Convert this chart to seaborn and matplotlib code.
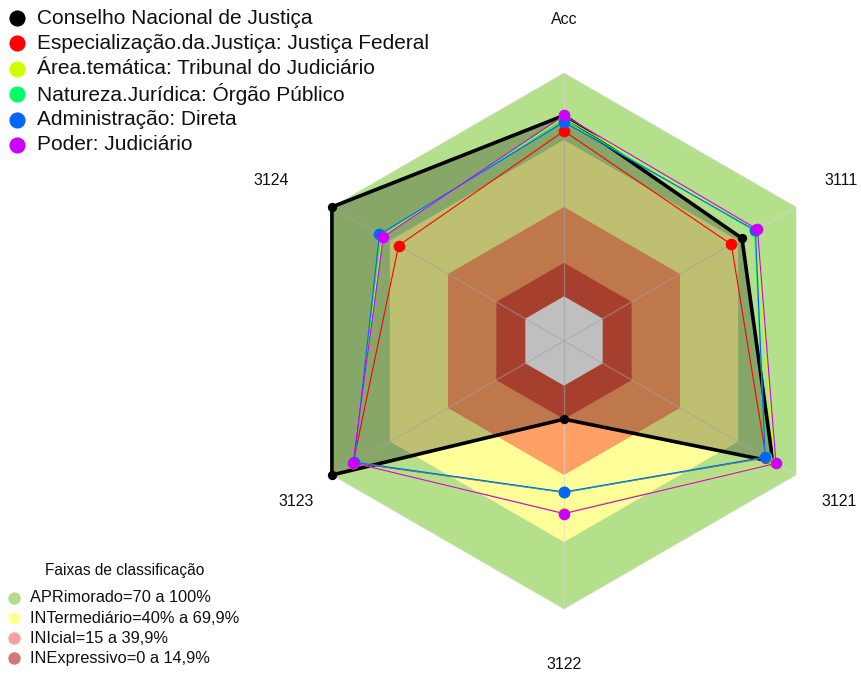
import numpy as np
import pandas as pd
import matplotlib
matplotlib.use("Agg")
import matplotlib.pyplot as plt
import seaborn as sns

# ---------------- data ----------------
categories = ["Acc", "3111", "3121", "3122", "3123", "3124"]

series_names = [
    "Conselho Nacional de Justiça",
    "Especialização.da.Justiça: Justiça Federal",
    "Área.temática: Tribunal do Judiciário",
    "Natureza.Jurídica: Órgão Público",
    "Administração: Direta",
    "Poder: Judiciário",
]
conselho = [0.81, 0.72, 0.88, 0.15, 1.00, 1.00]
especializacao = [0.74, 0.665, 0.845, 0.478, 0.89, 0.655]
area_tematica = [0.80, 0.79, 0.89, 0.570, 0.89, 0.74]
natureza = [0.79, 0.785, 0.842, 0.478, 0.886, 0.75]
administracao = [0.78, 0.79, 0.84, 0.476, 0.885, 0.754]
poder = [0.81, 0.80, 0.896, 0.573, 0.891, 0.734]
series_values = [conselho, especializacao, area_tematica, natureza, administracao, poder]
series_colors = ["#000000", "#FF0000", "#CCFF00", "#00FF66", "#0066FF", "#CC00FF"]

band_title = "Faixas de classificação"
band_labels = ["APRimorado=70 a 100%", "INTermediário=40% a 69,9%",
               "INIcial=15 a 39,9%", "INExpressivo=0 a 14,9%"]
band_upper = [1.00, 0.70, 0.40, 0.15]
band_fill = ["#b5e08b", "#ffff99", "#ffa066", "#e05540"]
band_legend_colors = ["#b3dc8c", "#ffff99", "#ff9f9f", "#d57575"]

# ---------------- setup ----------------
sns.set_theme(style="white")
plt.rcParams["font.family"] = ["Liberation Sans", "DejaVu Sans"]

W, H = 862, 675
fig = plt.figure(figsize=(W / 100, H / 100), dpi=100)
ax = fig.add_axes([0, 0, 1, 1])
cx, cy, R = 564, 341, 268

n = len(categories)
theta = np.deg2rad(90 - 60 * np.arange(n))


def radius(v):
    return (1 + 5 * np.asarray(v, dtype=float)) / 6


def xy(vals):
    r = radius(vals)
    return r * np.cos(theta), r * np.sin(theta)


# bands (outer to inner), then the white gap at the centre
for up, col in zip(band_upper, band_fill):
    x, y = xy([up] * n)
    ax.fill(x, y, color=col, lw=0, zorder=1)
x, y = xy([0.0] * n)
ax.fill(x, y, color="white", lw=0, zorder=1)

# radial axis lines
for t in theta:
    ax.plot([0, np.cos(t)], [0, np.sin(t)], color="#d8d8d8", lw=0.9, alpha=0.55, zorder=2)
xo, yo = xy([1.0] * n)
ax.plot(np.append(xo, xo[0]), np.append(yo, yo[0]), color="#d8d8d8", lw=0.8, alpha=0.5, zorder=2)

# series
for i, (name, vals, col) in enumerate(zip(series_names, series_values, series_colors)):
    x, y = xy(vals)
    xc, yc = np.append(x, x[0]), np.append(y, y[0])
    if i == 0:
        ax.fill(x, y, color="black", alpha=0.25, lw=0, zorder=3)
        ax.plot(xc, yc, color=col, lw=2.6, zorder=4 + i, solid_joinstyle="miter")
        ms = 45
    else:
        ax.plot(xc, yc, color=col, lw=0.8, zorder=4 + i)
        ms = 70
    df = pd.DataFrame({"x": x, "y": y})
    sns.scatterplot(data=df, x="x", y="y", color=col, s=ms, linewidth=0,
                    ax=ax, zorder=4 + i + 0.5, legend=False)
ax.axis("off")
ax.set_xlim(-cx / R, (W - cx) / R)
ax.set_ylim(-(H - cy) / R, cy / R)

# axis labels (small per-label nudges in pixels)
label_nudge_x = [0, -1, -3, 0, 11, -14]
label_nudge_y = [0, 0, 0, 2, 0, 0]
for t, lab, nx, ny in zip(theta, categories, label_nudge_x, label_nudge_y):
    ax.text(1.2 * np.cos(t) + nx / R, 1.2 * np.sin(t) - ny / R, lab, ha="center", va="center",
            fontsize=11.5, color="#111111")

# ---------------- legends (pixel overlay) ----------------
lax = fig.add_axes([0, 0, 1, 1], zorder=10)
lax.set_xlim(0, W)
lax.set_ylim(H, 0)
lax.axis("off")
lax.patch.set_alpha(0)

y0, dy = 18, 25.4
for i, (name, col) in enumerate(zip(series_names, series_colors)):
    yy = y0 + i * dy
    lax.scatter([17], [yy], s=135, color=col, linewidths=0)
    lax.text(37, yy, name, ha="left", va="center", fontsize=15, color="#111111")

lax.text(124.5, 571, band_title, ha="center", va="center", fontsize=11.2, color="#111111")
for i, (lab, col) in enumerate(zip(band_labels, band_legend_colors)):
    yy = 598 + i * 20.1
    lax.scatter([14], [yy], s=80, color=col, linewidths=0)
    lax.text(30, yy, lab, ha="left", va="center", fontsize=11.8, color="#111111")

fig.savefig("out.png", dpi=100)
